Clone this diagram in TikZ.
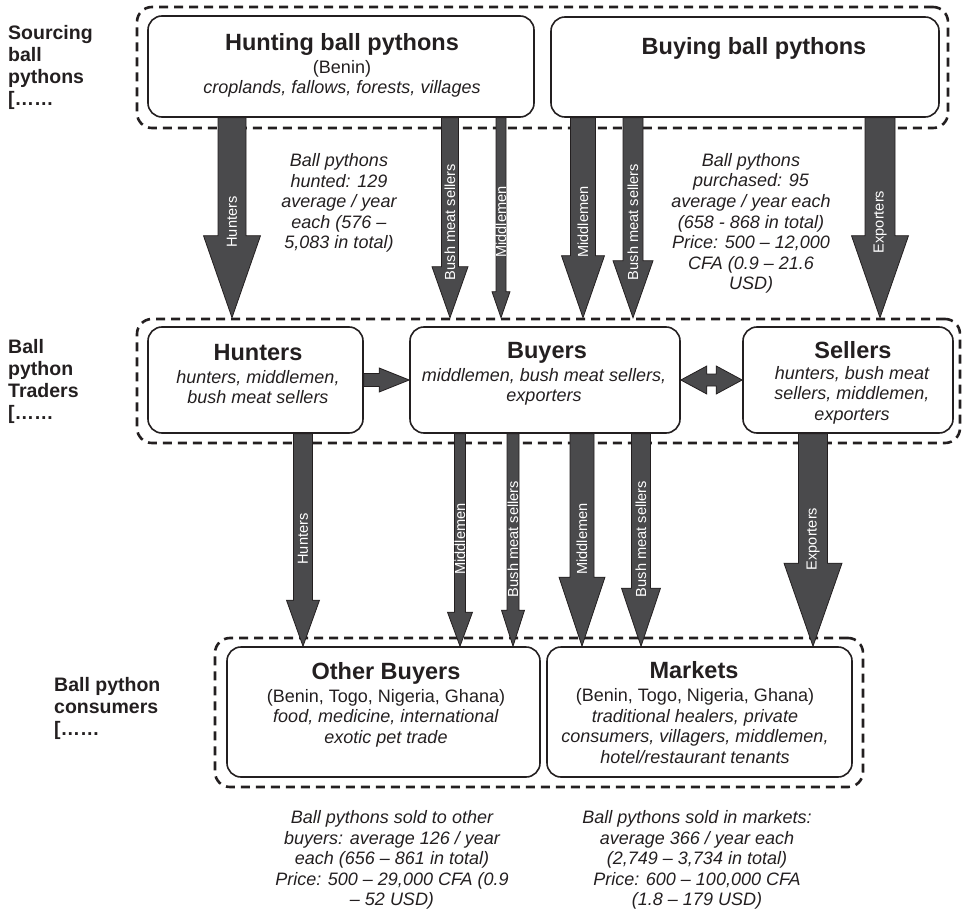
\documentclass[tikz,border=0pt]{standalone}
\usepackage{fontspec}
\setmainfont{Liberation Sans}
\usepackage{tikz}
\usetikzlibrary{calc}
\definecolor{ink}{RGB}{35,31,32}
\definecolor{arrowfill}{RGB}{74,74,76}

\tikzset{
  box/.style={draw=ink, line width=1.6pt, rounded corners=14pt, inner sep=0pt},
  group/.style={draw=ink, line width=2.6pt, dash pattern=on 9pt off 6pt, rounded corners=15pt, inner sep=0pt},
  title/.style={font=\fontsize{23.5}{26}\selectfont\bfseries, text=ink, inner sep=0pt},
  body/.style={font=\fontsize{18}{20.6}\selectfont, text=ink, align=center, inner sep=0pt},
  itbody/.style={body, font=\fontsize{18}{20.6}\selectfont\itshape},
  side/.style={font=\fontsize{19.5}{22}\selectfont\bfseries, text=ink, align=left, inner sep=0pt, anchor=west},
  blockarrow/.style={fill=arrowfill, draw=ink, line width=0.8pt, line join=miter},
  arrowlabel/.style={font=\fontsize{14.6}{16}\selectfont, text=white, rotate=90, inner sep=0pt}
}

% x, from, to, shaft width, head width, head length, label, label y
\newcommand{\blockarrow}[8]{%
  \filldraw[blockarrow] let \p1=(#2), \p2=(#3) in
    ({(#1-#4/2)*1pt},\y1) -- ({(#1-#4/2)*1pt},{\y2+#6pt}) -- ({(#1-#5/2)*1pt},{\y2+#6pt})
    -- ({#1*1pt},\y2) -- ({(#1+#5/2)*1pt},{\y2+#6pt}) -- ({(#1+#4/2)*1pt},{\y2+#6pt})
    -- ({(#1+#4/2)*1pt},\y1) -- cycle;
  \node[arrowlabel] at (#1,#8) {#7};
}

\begin{document}
\begin{tikzpicture}[x=1pt, y=-1pt]
  \useasboundingbox (0,0) rectangle (964,912);

  % level labels
  \node[side] (srclab) at (8,67) {Sourcing\\ball\\pythons\\{[}\ldots\ldots};
  \node[side] (trdlab) at (8,381) {Ball\\python\\Traders\\{[}\ldots\ldots};
  \node[side] (conlab) at (54,708) {Ball python\\consumers\\{[}\ldots\ldots};

  % sourcing
  \node[group, minimum width=811pt, minimum height=121pt] (srcgrp) at (542.5,67.5) {};
  \node[box, minimum width=386pt, minimum height=101pt] (hunt) at (341,66.5) {};
  \node[box, minimum width=388pt, minimum height=100pt] (buy) at (745,67) {};
  \node[title] (hunt-t) at (342,44) {Hunting ball pythons};
  \node[body] (hunt-b) at (342,79) {(Benin)\\\textit{croplands, fallows, forests, villages}};
  \node[title] (buy-t) at (754,48) {Buying ball pythons};

  % traders
  \node[group, minimum width=823pt, minimum height=124pt] (trdgrp) at (548.5,381) {};
  \node[box, minimum width=215pt, minimum height=106pt] (hunters) at (255.5,380) {};
  \node[box, minimum width=270pt, minimum height=106pt] (buyers) at (545,380) {};
  \node[box, minimum width=210pt, minimum height=106pt] (sellers) at (848,380) {};
  \node[title] (hunters-t) at (258,353) {Hunters};
  \node[itbody] (hunters-b) at (258,387) {hunters, middlemen,\\bush meat sellers};
  \node[title] (buyers-t) at (547,353) {Buyers};
  \node[itbody] (buyers-b) at (544,387) {middlemen, bush meat sellers,\\exporters};
  \node[title] (sellers-t) at (853,350) {Sellers};
  \node[itbody] (sellers-b) at (852,395) {hunters, bush meat\\sellers, middlemen,\\exporters};

  % consumers
  \node[group, minimum width=648pt, minimum height=149pt] (congrp) at (539,712.5) {};
  \node[box, minimum width=313pt, minimum height=130pt] (other) at (383.5,712) {};
  \node[box, minimum width=305pt, minimum height=130pt] (markets) at (699.5,712) {};
  \node[title] (other-t) at (386,673) {Other Buyers};
  \node[body] (other-b) at (386,718) {(Benin, Togo, Nigeria, Ghana)\\\textit{food, medicine, international}\\\textit{exotic pet trade}};
  \node[title] (markets-t) at (694,670) {Markets};
  \node[body] (markets-b) at (695,726) {(Benin, Togo, Nigeria, Ghana)\\\textit{traditional healers, private}\\\textit{consumers, villagers, middlemen,}\\\textit{hotel/restaurant tenants}};

  % figures
  \node[itbody] (hunted) at (339,203) {Ball pythons\\hunted: 129\\average / year\\each (576 --\\5,083 in total)};
  \node[itbody] (purchased) at (751,223.5) {Ball pythons\\purchased: 95\\average / year each\\(658 - 868 in total)\\Price: 500 -- 12,000\\CFA (0.9 -- 21.6\\USD)};
  \node[itbody] (soldother) at (392,860) {Ball pythons sold to other\\buyers: average 126 / year\\each (656 -- 861 in total)\\Price: 500 -- 29,000 CFA (0.9\\-- 52 USD)};
  \node[itbody] (soldmkt) at (697,860) {Ball pythons sold in markets:\\average 366 / year each\\(2,749 -- 3,734 in total)\\Price: 600 -- 100,000 CFA\\(1.8 -- 179 USD)};

  % flows sourcing -> traders
  \blockarrow{232}{hunt.south}{trdgrp.north}{28}{57}{82}{Hunters}{222}
  \blockarrow{450}{hunt.south}{trdgrp.north}{17}{36}{51}{Bush meat sellers}{222}
  \blockarrow{501}{hunt.south}{trdgrp.north}{10}{18}{26}{Middlemen}{222}
  \blockarrow{583}{buy.south}{trdgrp.north}{25}{43}{62}{Middlemen}{222}
  \blockarrow{633}{buy.south}{trdgrp.north}{20}{40}{57}{Bush meat sellers}{222}
  \blockarrow{880}{buy.south}{trdgrp.north}{30}{57}{82}{Exporters}{222}

  % flows traders -> consumers
  \blockarrow{303}{hunters.south}{other.north}{19}{33}{46}{Hunters}{539}
  \blockarrow{460}{buyers.south}{other.north}{11}{25}{34}{Middlemen}{539}
  \blockarrow{513}{buyers.south}{other.north}{12}{23}{36}{Bush meat sellers}{539}
  \blockarrow{582}{buyers.south}{markets.north}{24}{46}{69}{Middlemen}{539}
  \blockarrow{641}{buyers.south}{markets.north}{19}{39}{58}{Bush meat sellers}{539}
  \blockarrow{813}{sellers.south}{markets.north}{29}{58}{83}{Exporters}{539}

  % between traders
  \filldraw[blockarrow] let \p1=(hunters.east), \p2=(buyers.west) in
    (\x1,{\y1+6.5pt}) -- ({\x2-30pt},{\y1+6.5pt}) -- ({\x2-30pt},{\y1+12pt}) -- (\x2,\y1)
    -- ({\x2-30pt},{\y1-12pt}) -- ({\x2-30pt},{\y1-6.5pt}) -- (\x1,{\y1-6.5pt}) -- cycle;
  \filldraw[blockarrow] let \p1=(buyers.east), \p2=(sellers.west) in
    (\x1,\y1) -- ({\x1+26pt},{\y1+14pt}) -- ({\x1+26pt},{\y1+6pt}) -- ({\x2-26pt},{\y1+6pt})
    -- ({\x2-26pt},{\y1+14pt}) -- (\x2,\y1) -- ({\x2-26pt},{\y1-14pt}) -- ({\x2-26pt},{\y1-6pt})
    -- ({\x1+26pt},{\y1-6pt}) -- ({\x1+26pt},{\y1-14pt}) -- cycle;
\end{tikzpicture}
\end{document}
